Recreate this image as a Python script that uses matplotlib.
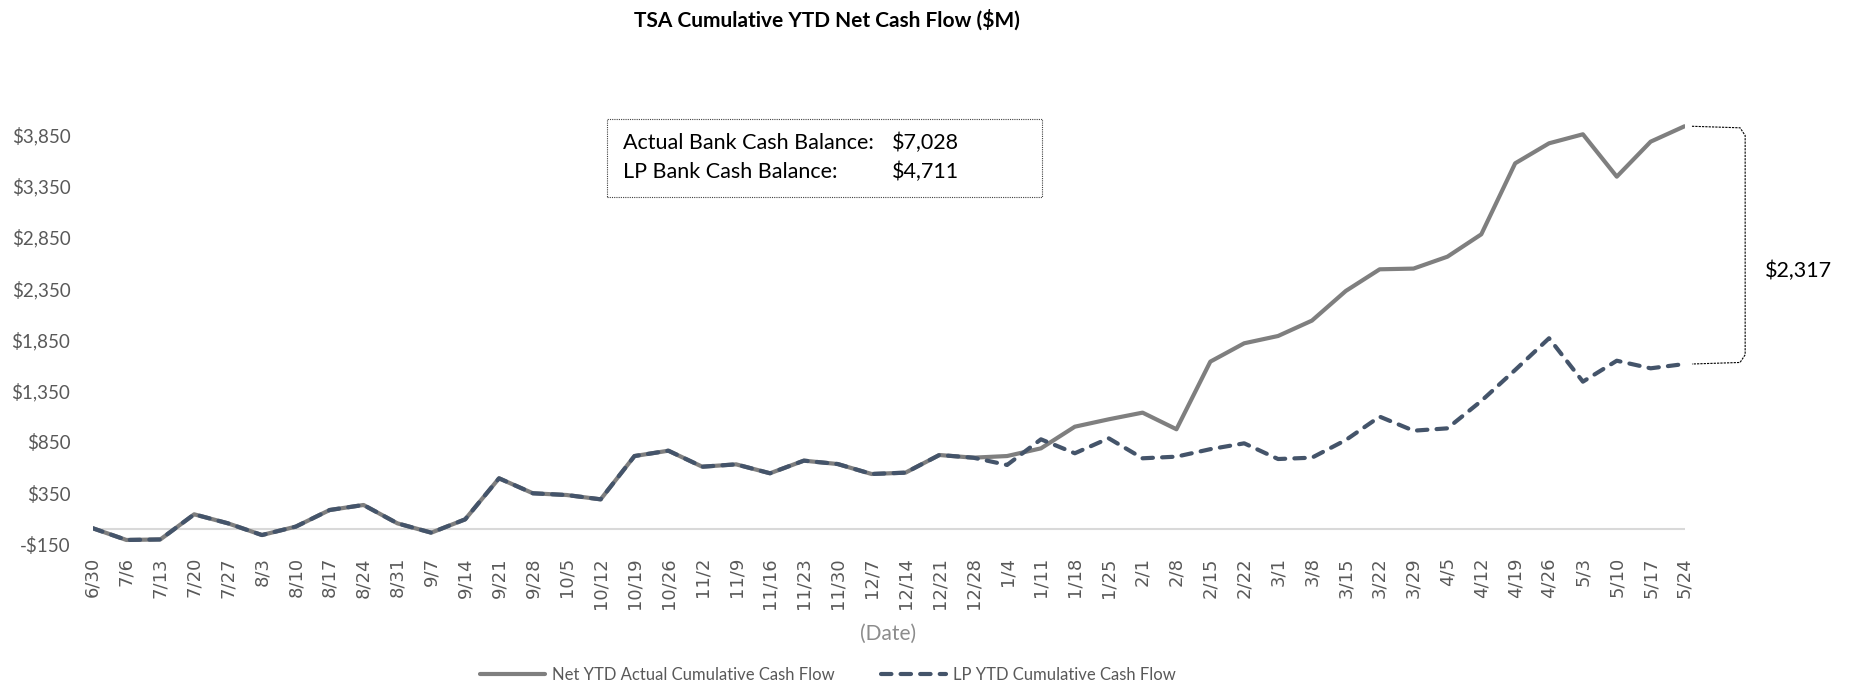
import numpy as np
import matplotlib
matplotlib.use("Agg")
import matplotlib.pyplot as plt
from matplotlib.patches import Rectangle

dates = ['6/30', '7/6', '7/13', '7/20', '7/27', '8/3', '8/10', '8/17', '8/24', '8/31',
         '9/7', '9/14', '9/21', '9/28', '10/5', '10/12', '10/19', '10/26', '11/2', '11/9',
         '11/16', '11/23', '11/30', '12/7', '12/14', '12/21', '12/28', '1/4', '1/11', '1/18',
         '1/25', '2/1', '2/8', '2/15', '2/22', '3/1', '3/8', '3/15', '3/22', '3/29',
         '4/5', '4/12', '4/19', '4/26', '5/3', '5/10', '5/17', '5/24']

actual = [10, -105, -100, 145, 57, -57, 25, 187, 236, 57,
          -34, 96, 496, 350, 333, 291, 713, 765, 609, 632,
          545, 668, 635, 538, 551, 723, 697, 713, 788, 999,
          1071, 1136, 974, 1633, 1812, 1883, 2033, 2322, 2533, 2540,
          2656, 2874, 3566, 3761, 3849, 3436, 3777, 3927]

lp = [10, -105, -100, 145, 57, -57, 25, 187, 236, 57,
      -34, 96, 496, 350, 333, 291, 713, 765, 609, 632,
      545, 668, 635, 538, 551, 723, 697, 626, 876, 740,
      886, 691, 707, 780, 837, 684, 697, 869, 1097, 960,
      983, 1250, 1552, 1861, 1438, 1642, 1568, 1610]

yticks = [-150, 350, 850, 1350, 1850, 2350, 2850, 3350, 3850]

actual_balance = 7028
lp_balance = 4711

FONT = ['Lato', 'DejaVu Sans']
GRAY = '#7f7f7f'
NAVY = '#44546a'
LABEL = '#595959'

fig = plt.figure(figsize=(18.55, 6.87), dpi=100)
ax = fig.add_axes([0.0499, 0.2073, 0.8582, 0.6198])

x = np.arange(len(dates))
ax.axhline(0, color='#d9d9d9', lw=1.5, zorder=1)
ax.plot(x, actual, color=GRAY, lw=3.0, solid_capstyle='round',
        label='Net YTD Actual Cumulative Cash Flow', zorder=2)
ax.plot(x, lp, color=NAVY, lw=3.0, dashes=(2.5, 2.2), dash_capstyle='round',
        label='LP YTD Cumulative Cash Flow', zorder=3)

ax.set_xlim(0, len(dates) - 1)
ax.set_ylim(-150, 4000)
for s in ax.spines.values():
    s.set_visible(False)

ax.set_xticks(x)
ax.set_xticklabels(dates, rotation=90, fontsize=13, color=LABEL, family='DejaVu Sans')
ax.set_yticks(yticks)
ax.set_yticklabels(['-$150' if v < 0 else '${:,}'.format(v) for v in yticks],
                   fontsize=13.5, color=LABEL, family=FONT)
ax.tick_params(axis='x', length=0, pad=9)
ax.tick_params(axis='y', length=0, pad=16)

ax.set_xlabel('(Date)', fontsize=15, color='#8c8c8c', family=FONT, labelpad=11)

fig.text(0.4458, 0.971, 'TSA Cumulative YTD Net Cash Flow ($M)', ha='center', va='center',
         fontsize=15, fontweight='bold', family=FONT)

# balance box
fig.patches.append(Rectangle((0.3272, 0.7135), 0.2345, 0.1133, transform=fig.transFigure,
                             fill=False, ec='#404040', lw=0.8, ls=(0, (1, 1))))
fig.text(0.3358, 0.7923, 'Actual Bank Cash Balance:', fontsize=15.5, va='center', family=FONT)
fig.text(0.3358, 0.7500, 'LP Bank Cash Balance:', fontsize=15.5, va='center', family=FONT)
fig.text(0.4808, 0.7923, '${:,}'.format(actual_balance), fontsize=15.5, va='center', family=FONT)
fig.text(0.4808, 0.7500, '${:,}'.format(lp_balance), fontsize=15.5, va='center', family=FONT)

# bracket showing the gap
x0, x1 = len(dates) - 1 + 0.22, len(dates) - 1 + 1.79
top, bot = actual[-1], lp[-1]
bx = [x0, x1 - 0.15, x1, x1, x1 - 0.15, x0]
by = [top, top - 15, top - 90, bot + 90, bot + 15, bot]
ax.plot(bx, by, color='black', lw=0.8, ls=(0, (2, 1)), clip_on=False)
ax.text(x1 + 0.59, 2517, '${:,}'.format(actual_balance - lp_balance), fontsize=15.5,
        va='center', ha='left', family=FONT)

fig.legend(loc='center', bbox_to_anchor=(0.4464, 0.0175), ncol=2, frameon=False,
           prop={'family': FONT, 'size': 12}, labelcolor=LABEL,
           handlelength=3.9, handletextpad=0.4, columnspacing=2.8)

fig.savefig('out.png', dpi=100)
